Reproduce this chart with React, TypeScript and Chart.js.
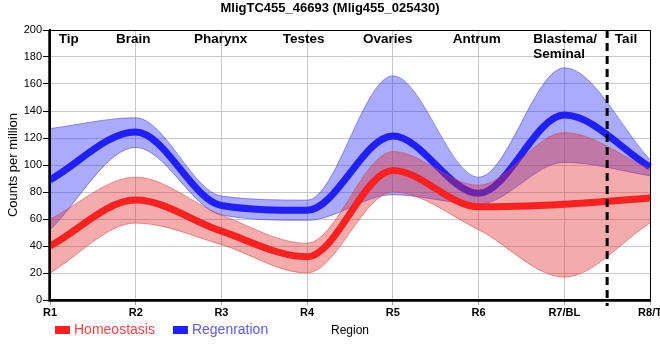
import React, { useEffect, useRef } from "react";
import { Chart, registerables } from "chart.js";

Chart.register(...registerables);

// ---- data ----
const regions = ["R1", "R2", "R3", "R4", "R5", "R6", "R7/BL", "R8/T"];
const homeostasis = [40, 74, 51, 32, 96, 69, 71, 75.5];
const homeostasisUpper = [60, 91, 63, 42, 110, 85, 124, 97];
const homeostasisLower = [20, 57, 41, 20, 80, 52, 17, 57];
const regeneration = [89, 124.5, 70, 66.5, 121.5, 79, 137, 98.5];
const regenerationUpper = [127, 135, 77, 74, 166, 91, 172, 104];
const regenerationLower = [52, 113, 63, 59, 78, 71, 102, 92];
const seriesNames = ["Homeostasis", "Regenration"];
const regionNames = ["Tip", "Brain", "Pharynx", "Testes", "Ovaries", "Antrum", "Blastema/\nSeminal", "Tail"];
const regionAnchors = [0.22, 0.97, 1.99, 2.96, 3.94, 4.98, 6.01, 6.72];
const dividerAt = 6.5;
const yMin = 0;
const yMax = 200;
const yStep = 20;

const FONT = "'Liberation Sans', Arial, Helvetica, sans-serif";
const RED = "#ff2020";
const BLUE = "#2020ff";
const RED_FILL = "rgba(225,45,45,0.4)";
const RED_EDGE = "rgba(215,70,70,0.55)";
const BLUE_FILL = "rgba(45,45,245,0.4)";
const BLUE_EDGE = "rgba(70,70,235,0.55)";
const LEGEND_TEXT = ["#ff4545", "#5a5aff"];
const LEGEND_BOX = [RED, BLUE];

const overlayPlugin = {
  id: "overlay",
  afterDatasetsDraw(chart: any) {
    const { ctx, chartArea: a, scales } = chart;
    const x = scales.x;
    ctx.save();
    // frame: thin top / right, thick left / bottom
    ctx.strokeStyle = "#000";
    ctx.lineWidth = 1;
    ctx.beginPath();
    ctx.moveTo(a.left, a.top + 0.5);
    ctx.lineTo(a.right + 0.5, a.top + 0.5);
    ctx.lineTo(a.right + 0.5, a.bottom);
    ctx.stroke();
    ctx.lineWidth = 2.4;
    ctx.beginPath();
    ctx.moveTo(a.left - 0.5, a.top);
    ctx.lineTo(a.left - 0.5, a.bottom + 0.5);
    ctx.lineTo(a.right + 1, a.bottom + 0.5);
    ctx.stroke();
    // dashed divider
    const dx = x.getPixelForValue(dividerAt);
    ctx.setLineDash([8, 5]);
    ctx.lineWidth = 3;
    ctx.beginPath();
    ctx.moveTo(dx, a.top);
    ctx.lineTo(dx, a.bottom + 6);
    ctx.stroke();
    ctx.setLineDash([]);
    // region labels
    ctx.fillStyle = "#000";
    ctx.font = `bold 13.5px ${FONT}`;
    ctx.textBaseline = "middle";
    regionNames.forEach((name, i) => {
      const lines = name.split("\n");
      const cx = x.getPixelForValue(regionAnchors[i]);
      const w0 = ctx.measureText(lines[0]).width;
      const left = cx - w0 / 2;
      lines.forEach((ln: string, j: number) => {
        ctx.textAlign = "left";
        ctx.fillText(ln, left, a.top + 9.5 + j * 14.5);
      });
    });
    ctx.restore();
  },
  afterDraw(chart: any) {
    const { ctx } = chart;
    ctx.save();
    ctx.font = `14px ${FONT}`;
    ctx.textBaseline = "middle";
    ctx.textAlign = "left";
    let lx = 55;
    const ly = 330;
    seriesNames.forEach((name, i) => {
      ctx.fillStyle = LEGEND_BOX[i];
      ctx.fillRect(lx, ly - 4, 15, 8);
      ctx.fillStyle = LEGEND_TEXT[i];
      ctx.fillText(name, lx + 19, ly);
      lx += 19 + ctx.measureText(name).width + 18;
    });
    ctx.restore();
  },
};

const lineBase = {
  pointRadius: 0,
  pointHoverRadius: 0,
  cubicInterpolationMode: "monotone" as const,
};

export default function App() {
  const ref = useRef<HTMLCanvasElement>(null);
  useEffect(() => {
    const chart = new Chart(ref.current as HTMLCanvasElement, {
      type: "line",
      data: {
        labels: regions,
        datasets: [
          { ...lineBase, label: seriesNames[0], data: homeostasis, borderColor: RED, borderWidth: 7, fill: false },
          { ...lineBase, label: seriesNames[0] + " upper", data: homeostasisUpper, borderColor: RED_EDGE, backgroundColor: RED_FILL, borderWidth: 1, fill: "+1" },
          { ...lineBase, label: seriesNames[0] + " lower", data: homeostasisLower, borderColor: RED_EDGE, borderWidth: 1, fill: false },
          { ...lineBase, label: seriesNames[1], data: regeneration, borderColor: BLUE, borderWidth: 7, fill: false },
          { ...lineBase, label: seriesNames[1] + " upper", data: regenerationUpper, borderColor: BLUE_EDGE, backgroundColor: BLUE_FILL, borderWidth: 1, fill: "+1" },
          { ...lineBase, label: seriesNames[1] + " lower", data: regenerationLower, borderColor: BLUE_EDGE, borderWidth: 1, fill: false },
        ],
      },
      options: {
        animation: false,
        responsive: false,
        devicePixelRatio: 1,
        layout: { padding: 0 },
        plugins: {
          legend: { display: false },
          tooltip: { enabled: false },
          title: {
            display: true,
            text: "MligTC455_46693 (Mlig455_025430)",
            color: "#000",
            font: { family: FONT, size: 13, weight: "bold" },
            padding: { top: 1, bottom: 13.4 },
          },
        },
        scales: {
          x: {
            type: "category",
            offset: false,
            afterFit: (s: any) => {
              s.height = 60;
              s.paddingLeft = 0;
              s.paddingRight = 10;
            },
            grid: { color: "#c8c8c8", lineWidth: 1, tickLength: 5, tickColor: "#a0a0a0" },
            border: { display: true, color: "#000", width: 2 },
            ticks: {
              autoSkip: false,
              maxRotation: 0,
              padding: 1,
              color: "#000",
              font: { family: FONT, size: 11, weight: "bold" },
            },
            title: {
              display: true,
              text: "Region",
              color: "#000",
              font: { family: FONT, size: 12 },
              padding: { top: 0, bottom: 22 },
            },
          },
          y: {
            min: yMin,
            max: yMax,
            afterFit: (s: any) => {
              s.width = 50;
            },
            grid: { color: "#c8c8c8", lineWidth: 1, tickLength: 7, tickColor: "#000" },
            border: { display: true, color: "#000", width: 2 },
            ticks: {
              stepSize: yStep,
              padding: 1,
              color: "#000",
              font: { family: FONT, size: 11 },
            },
            title: {
              display: true,
              text: "Counts per million",
              color: "#000",
              font: { family: FONT, size: 13 },
              padding: { top: 5.5, bottom: 0 },
            },
          },
        },
      },
      plugins: [overlayPlugin],
    } as any);
    return () => chart.destroy();
  }, []);
  return (
    <canvas
      ref={ref}
      width={660}
      height={360}
      style={{ position: "fixed", left: 0, top: 0, width: 660, height: 360, display: "block" }}
    />
  );
}
